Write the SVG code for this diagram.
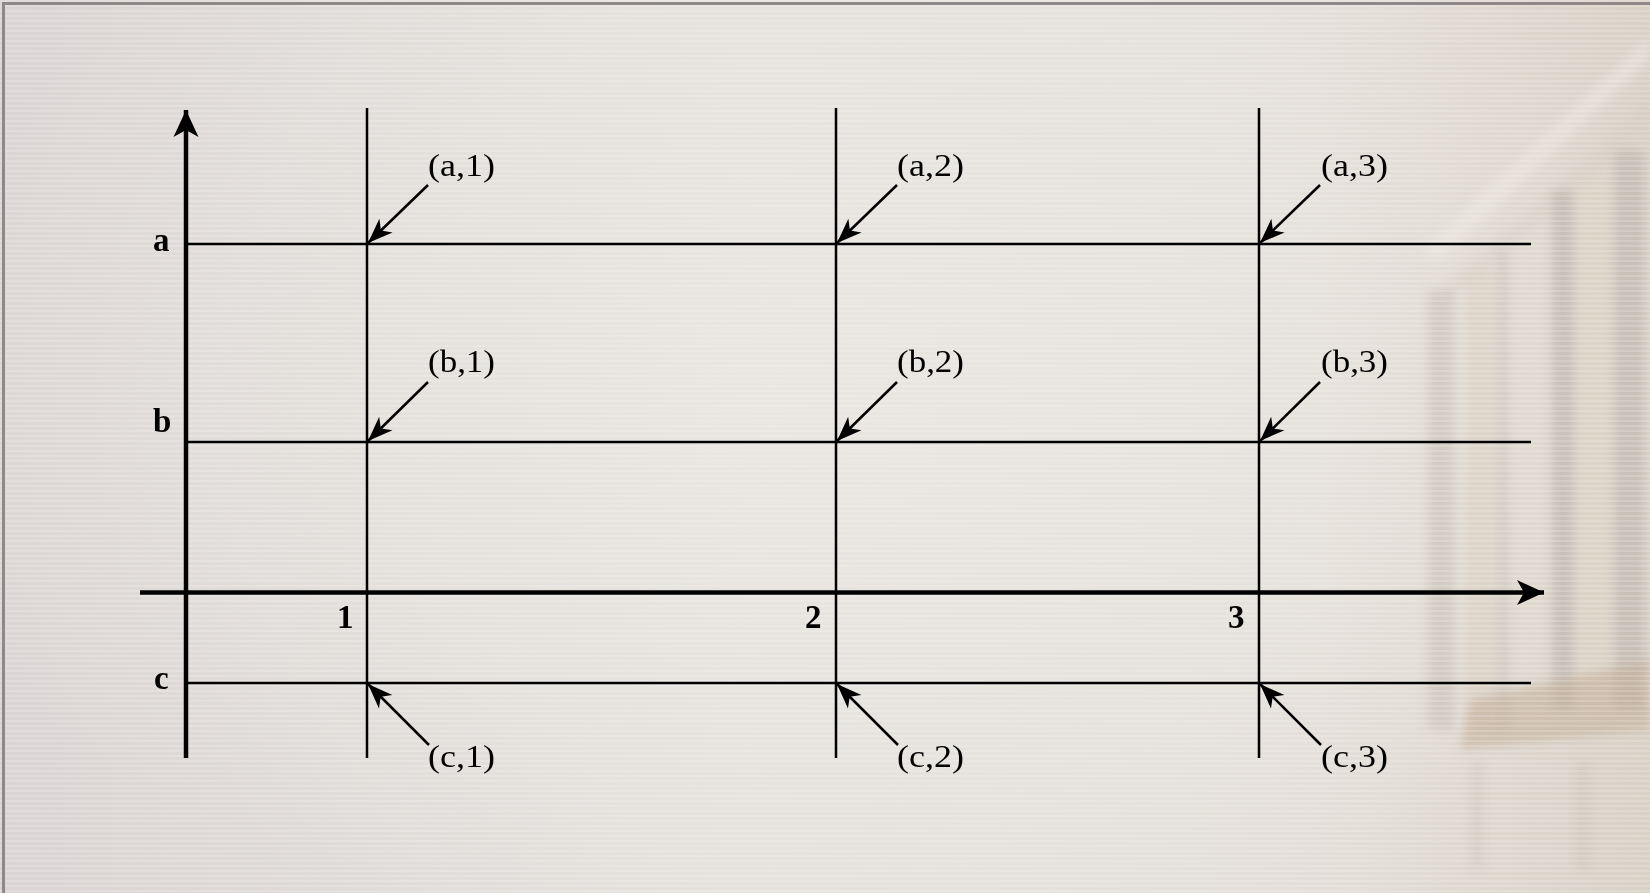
<svg xmlns="http://www.w3.org/2000/svg" width="1650" height="893" viewBox="0 0 1650 893">
  <defs>
    <linearGradient id="bg" x1="0" y1="0" x2="1" y2="0">
      <stop offset="0" stop-color="#dad5d4"/>
      <stop offset="0.45" stop-color="#e5e2de"/>
      <stop offset="0.8" stop-color="#e3dfd8"/>
      <stop offset="1" stop-color="#d9d1c6"/>
    </linearGradient>
    <radialGradient id="glow" cx="0.5" cy="0.45" r="0.6">
      <stop offset="0" stop-color="#ebe8e2" stop-opacity="0.7"/>
      <stop offset="1" stop-color="#ebe8e2" stop-opacity="0"/>
    </radialGradient>
    <pattern id="stripes" width="8" height="5" patternUnits="userSpaceOnUse">
      <rect width="8" height="2" fill="#ffffff" opacity="0.18"/>
    </pattern>
    <filter id="blur" x="-20%" y="-20%" width="140%" height="140%">
      <feGaussianBlur stdDeviation="5"/>
    </filter>
    <marker id="ah" viewBox="-26 -11 28 22" markerWidth="28" markerHeight="22" refX="0" refY="0" orient="auto" markerUnits="userSpaceOnUse">
      <path d="M0,0 L-25,-9.5 L-18,0 L-25,9.5 Z" fill="#000"/>
    </marker>
    <marker id="axh" viewBox="-28 -14 30 28" markerWidth="30" markerHeight="28" refX="0" refY="0" orient="auto" markerUnits="userSpaceOnUse">
      <path d="M0,0 L-27,-12.5 L-20,0 L-27,12.5 Z" fill="#000"/>
    </marker>
  </defs>
  <style>
    .thin { stroke: #000; stroke-width: 2.5; fill: none; }
    .axis { stroke: #000; stroke-width: 4.5; fill: none; }
    .ptr { stroke: #000; stroke-width: 2.5; fill: none; marker-end: url(#ah); }
    .lbl { font-family: "Liberation Serif", "Times New Roman", serif; font-size: 32px; fill: #000; }
    .bold { font-family: "Liberation Serif", "Times New Roman", serif; font-size: 33px; font-weight: bold; fill: #000; }
  </style>

  <!-- background -->
  <g id="background">
    <rect width="1650" height="893" fill="url(#bg)"/>
    <rect width="1650" height="893" fill="url(#glow)"/>
    <g filter="url(#blur)">
      <path d="M1420,250 L1650,35 L1650,60 L1440,262 Z" fill="#f0ece6" opacity="0.4"/>
      <path d="M1440,290 L1650,100 L1650,130 L1450,300 Z" fill="#cfc6bc" opacity="0.3"/>
      <rect x="1428" y="290" width="26" height="440" fill="#c5bdb4" opacity="0.55"/>
      <rect x="1466" y="270" width="28" height="460" fill="#d9ccbd" opacity="0.45"/>
      <rect x="1496" y="250" width="14" height="480" fill="#c8bfb6" opacity="0.45"/>
      <rect x="1552" y="190" width="22" height="520" fill="#bab2aa" opacity="0.6"/>
      <rect x="1576" y="180" width="36" height="530" fill="#dcd0c2" opacity="0.45"/>
      <rect x="1614" y="150" width="30" height="560" fill="#bcb4ab" opacity="0.6"/>
      <path d="M1470,700 L1650,660 L1650,730 L1460,750 Z" fill="#c3ad98" opacity="0.55"/>
      <rect x="1470" y="760" width="14" height="110" fill="#cbc2b8" opacity="0.4"/>
      <rect x="1575" y="760" width="16" height="110" fill="#cbc2b8" opacity="0.4"/>
    </g>
    <rect width="1650" height="893" fill="url(#stripes)"/>
    <rect x="3.5" y="3.5" width="1660" height="900" fill="none" stroke="#8e8888" stroke-width="3"/>
  </g>

  <!-- grid lines and axes -->
  <g id="connectors">
    <line class="thin" x1="186" y1="244" x2="1531" y2="244"/>
    <line class="thin" x1="186" y1="442" x2="1531" y2="442"/>
    <line class="thin" x1="186" y1="683" x2="1531" y2="683"/>
    <line class="thin" x1="367" y1="108" x2="367" y2="758"/>
    <line class="thin" x1="836" y1="108" x2="836" y2="758"/>
    <line class="thin" x1="1259" y1="108" x2="1259" y2="758"/>
    <line class="axis" x1="186" y1="758" x2="186" y2="110" marker-end="url(#axh)"/>
    <line class="axis" x1="140" y1="592.5" x2="1544" y2="592.5" marker-end="url(#axh)"/>

    <line class="ptr" x1="428" y1="185" x2="368" y2="243"/>
    <line class="ptr" x1="897" y1="185" x2="837" y2="243"/>
    <line class="ptr" x1="1320" y1="185" x2="1260" y2="243"/>
    <line class="ptr" x1="428" y1="382" x2="368" y2="441"/>
    <line class="ptr" x1="897" y1="382" x2="837" y2="441"/>
    <line class="ptr" x1="1320" y1="382" x2="1260" y2="441"/>
    <line class="ptr" x1="429" y1="745" x2="368" y2="684"/>
    <line class="ptr" x1="898" y1="745" x2="837" y2="684"/>
    <line class="ptr" x1="1321" y1="745" x2="1260" y2="684"/>
  </g>

  <g id="axis-labels">
    <text class="bold" x="153" y="251">a</text>
    <text class="bold" x="153" y="432">b</text>
    <text class="bold" x="154" y="689">c</text>
    <text class="bold" x="337" y="628">1</text>
    <text class="bold" x="805" y="628">2</text>
    <text class="bold" x="1228" y="628">3</text>
  </g>

  <g id="point-a1"><text class="lbl" x="428" y="176" textLength="67" lengthAdjust="spacingAndGlyphs">(a,1)</text></g>
  <g id="point-a2"><text class="lbl" x="897" y="176" textLength="67" lengthAdjust="spacingAndGlyphs">(a,2)</text></g>
  <g id="point-a3"><text class="lbl" x="1321" y="176" textLength="67" lengthAdjust="spacingAndGlyphs">(a,3)</text></g>
  <g id="point-b1"><text class="lbl" x="428" y="372" textLength="67" lengthAdjust="spacingAndGlyphs">(b,1)</text></g>
  <g id="point-b2"><text class="lbl" x="897" y="372" textLength="67" lengthAdjust="spacingAndGlyphs">(b,2)</text></g>
  <g id="point-b3"><text class="lbl" x="1321" y="372" textLength="67" lengthAdjust="spacingAndGlyphs">(b,3)</text></g>
  <g id="point-c1"><text class="lbl" x="428" y="767" textLength="67" lengthAdjust="spacingAndGlyphs">(c,1)</text></g>
  <g id="point-c2"><text class="lbl" x="897" y="767" textLength="67" lengthAdjust="spacingAndGlyphs">(c,2)</text></g>
  <g id="point-c3"><text class="lbl" x="1321" y="767" textLength="67" lengthAdjust="spacingAndGlyphs">(c,3)</text></g>
</svg>
